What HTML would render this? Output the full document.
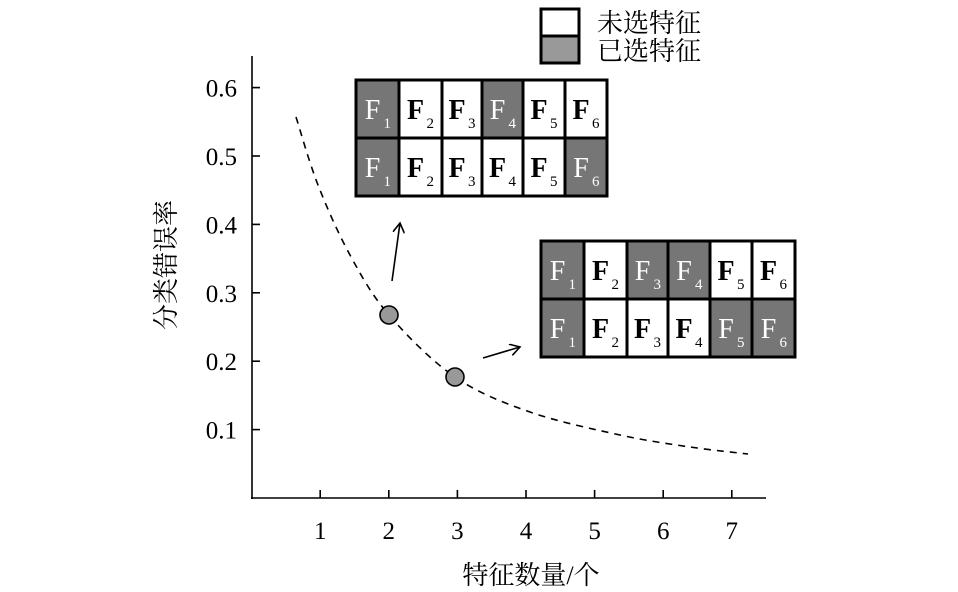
<!DOCTYPE html>
<html><head><meta charset="utf-8"><style>
html,body{margin:0;padding:0;background:#fff;width:958px;height:592px;overflow:hidden}
svg text{font-family:"Liberation Serif","Noto Serif CJK SC",serif}
.cjk{font-family:"Liberation Serif","Noto Serif CJK SC",serif}
</style></head><body>
<svg id="s" width="958" height="592" viewBox="0 0 958 592" xmlns="http://www.w3.org/2000/svg">
<defs><marker id="ah" markerWidth="12" markerHeight="12" refX="10" refY="6" orient="auto" markerUnits="userSpaceOnUse"><path d="M0,0 L10,6 L0,12" fill="none" stroke="#000" stroke-width="1.6"/></marker></defs>
<g stroke="#000" stroke-width="1.6" fill="none">
<line x1="252" y1="56" x2="252" y2="499"/>
<line x1="251" y1="498" x2="766" y2="498"/>
<g id="ticks"></g>
</g>
<g font-size="25" text-anchor="middle" id="xl"></g>
<g font-size="25" text-anchor="end" id="yl"></g>
<text class="cjk" x="0" y="0" font-size="26" text-anchor="middle" transform="translate(175,265) rotate(-90)">分类错误率</text>
<text class="cjk" x="531" y="584" font-size="26" text-anchor="middle">特征数量/个</text>
<path id="curve" fill="none" stroke="#000" stroke-width="1.6" stroke-dasharray="7,6"/>
<circle cx="389" cy="315" r="9" fill="#999" stroke="#000" stroke-width="1.6"/>
<circle cx="455" cy="377" r="9" fill="#999" stroke="#000" stroke-width="1.6"/>
<line x1="392" y1="281" x2="400" y2="223" stroke="#000" stroke-width="1.6" marker-end="url(#ah)"/>
<line x1="483" y1="358" x2="520" y2="347" stroke="#000" stroke-width="1.6" marker-end="url(#ah)"/>
<rect x="541" y="9" width="38" height="27" fill="#fff" stroke="#000" stroke-width="3"/>
<rect x="541" y="36" width="38" height="27" fill="#999" stroke="#000" stroke-width="3"/>
<text class="cjk" x="597" y="32" font-size="26">未选特征</text>
<text class="cjk" x="597" y="60" font-size="26">已选特征</text>
<g id="tables"></g>
</svg>
<script>
var NS="http://www.w3.org/2000/svg";
function el(n,a,p,t){var e=document.createElementNS(NS,n);for(var k in a)e.setAttribute(k,a[k]);if(t!==undefined)e.textContent=t;(p||document.getElementById('s')).appendChild(e);return e;}
var tk=document.getElementById('ticks'),xl=document.getElementById('xl'),yl=document.getElementById('yl');
for(var i=1;i<=7;i++){var x=251.6+68.6*i;el('line',{x1:x,y1:498,x2:x,y2:490},tk);el('text',{x:x,y:539},xl,''+i);}
for(var j=1;j<=6;j++){var y=498-68.4*j;el('line',{x1:252,y1:y,x2:260,y2:y},tk);el('text',{x:237,y:y+9},yl,'0.'+j);}
var P=[[296,117],[318,185],[350,255],[389,315],[455,377],[530,412],[620,435],[690,447],[748,454]];
var d='M'+P[0];for(var k=0;k<P.length-1;k++){var p0=P[k-1]||P[k],p1=P[k],p2=P[k+1],p3=P[k+2]||P[k+1];
d+=' C'+(p1[0]+(p2[0]-p0[0])/6)+','+(p1[1]+(p2[1]-p0[1])/6)+' '+(p2[0]-(p3[0]-p1[0])/6)+','+(p2[1]-(p3[1]-p1[1])/6)+' '+p2;}
document.getElementById('curve').setAttribute('d',d);
var tg=document.getElementById('tables');
function table(x0,y0,cols,rh,pat){
 for(var r=0;r<2;r++)for(var c=0;c<6;c++){var g=pat[r][c];var x=cols[c],w=cols[c+1]-cols[c],y=y0+r*rh;
  el('rect',{x:x,y:y,width:w,height:rh,fill:g?'#767676':'#fff',stroke:'#000','stroke-width':3},tg);
  el('text',{x:x+w/2-5,y:y+rh/2+10,'font-size':28,'text-anchor':'middle',fill:g?'#fff':'#000','font-weight':g?'normal':'bold'},tg,'F');
  el('text',{x:x+w/2+6,y:y+rh/2+19,'font-size':15,fill:g?'#fff':'#000'},tg,''+(c+1));}
}
table(356,80,[356,399,442,482,523,565,607],58,[[1,0,0,1,0,0],[1,0,0,0,0,1]]);
table(541,241,[541,584,627,668,710,752,795],58,[[1,0,1,1,0,0],[1,0,0,0,1,1]]);
</script>
</body></html>
